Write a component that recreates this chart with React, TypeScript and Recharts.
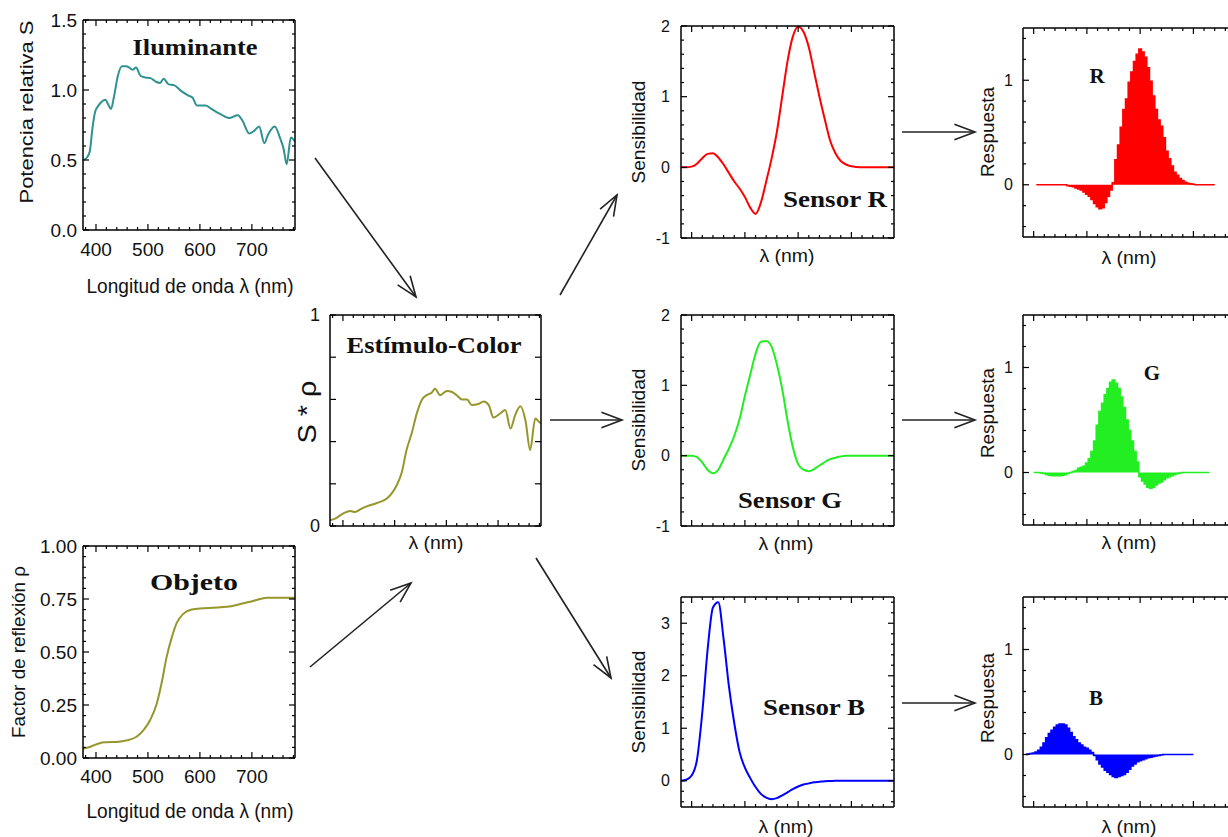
import { ComposedChart, Line, Area, XAxis, YAxis } from 'recharts';

const SANS = '"Liberation Sans", Arial, sans-serif';
const SERIF = '"Liberation Serif", "Times New Roman", serif';
const INK = '#111';

// ---- Iluminante (potencia relativa S) ----
const ILLUM_NM = [376, 383, 388, 393, 398, 405, 412, 418, 423, 429, 435, 442, 450, 458, 464, 470, 477, 486, 495, 505, 515, 523, 530, 540, 550, 565, 578, 586, 594, 602, 611, 620, 633, 643, 656, 673, 682, 695, 705, 714, 724, 731, 744, 754, 761, 767, 775, 783];
const ILLUM_S = [0.5, 0.52, 0.56, 0.72, 0.84, 0.89, 0.92, 0.93, 0.9, 0.865, 0.96, 1.1, 1.17, 1.17, 1.16, 1.145, 1.16, 1.1, 1.09, 1.085, 1.06, 1.05, 1.08, 1.04, 1.035, 0.99, 0.96, 0.945, 0.89, 0.89, 0.89, 0.87, 0.84, 0.82, 0.8, 0.82, 0.78, 0.69, 0.71, 0.74, 0.62, 0.68, 0.74, 0.66, 0.58, 0.47, 0.66, 0.63];

// ---- Objeto (factor de reflexion) ----
const OBJ_NM = [375, 388, 407, 420, 440, 459, 478, 491, 504, 517, 526, 536, 546, 555, 568, 581, 600, 626, 652, 678, 704, 730, 756, 783];
const OBJ_RHO = [0.044, 0.052, 0.07, 0.074, 0.076, 0.083, 0.1, 0.13, 0.178, 0.257, 0.35, 0.477, 0.57, 0.635, 0.68, 0.698, 0.705, 0.709, 0.713, 0.726, 0.742, 0.756, 0.756, 0.756];

// ---- Estimulo-Color (S * rho) ----
const EST_NM = [375, 385, 401, 414, 423, 436, 446, 459, 472, 485, 494, 504, 514, 523, 533, 543, 553, 562, 572, 578, 588, 601, 611, 620, 630, 640, 649, 662, 672, 682, 691, 704, 714, 724, 733, 743, 753, 762, 772, 779, 783];
const EST_V = [0.027, 0.035, 0.06, 0.071, 0.066, 0.082, 0.093, 0.103, 0.114, 0.13, 0.153, 0.193, 0.256, 0.36, 0.44, 0.535, 0.6, 0.62, 0.633, 0.65, 0.62, 0.64, 0.635, 0.62, 0.6, 0.6, 0.573, 0.578, 0.59, 0.573, 0.514, 0.533, 0.55, 0.462, 0.525, 0.568, 0.5, 0.36, 0.51, 0.494, 0.486];

// ---- Sensores (10 nm) ----
const SENS_NM = [380, 390, 400, 410, 420, 430, 440, 450, 460, 470, 480, 490, 500, 510, 520, 530, 540, 550, 560, 570, 580, 590, 600, 610, 620, 630, 640, 650, 660, 670, 680, 690, 700, 710, 720, 730, 740, 750, 760, 770, 780];
const SENS_R = [0, 0, 0.01, 0.05, 0.13, 0.19, 0.2, 0.14, 0.04, -0.08, -0.2, -0.3, -0.42, -0.57, -0.66, -0.5, -0.2, 0.12, 0.5, 1.0, 1.5, 1.85, 1.99, 1.92, 1.7, 1.35, 1.0, 0.68, 0.38, 0.2, 0.09, 0.04, 0.015, 0.005, 0, 0, 0, 0, 0, 0, 0];
const SENS_G = [0, 0, 0, -0.02, -0.1, -0.2, -0.25, -0.2, -0.05, 0.1, 0.28, 0.52, 0.85, 1.15, 1.45, 1.62, 1.63, 1.55, 1.3, 0.95, 0.5, 0.12, -0.12, -0.2, -0.22, -0.19, -0.14, -0.09, -0.05, -0.03, -0.01, 0, 0, 0, 0, 0, 0, 0, 0, 0, 0];
const SENS_B = [0, 0.02, 0.1, 0.4, 1.3, 2.5, 3.3, 3.4, 2.7, 1.8, 1.1, 0.55, 0.25, 0.05, -0.12, -0.25, -0.32, -0.35, -0.33, -0.28, -0.22, -0.16, -0.11, -0.07, -0.05, -0.03, -0.02, -0.01, -0.005, 0, 0, 0, 0, 0, 0, 0, 0, 0, 0, 0, 0];

// ---- Respuestas (bins de 5 nm) ----
const RESP_R_START = 405;
const RESP_R = [0, 0, 0, 0, 0, 0, 0, 0, 0, 0, 0, 0, -0.01, -0.015, -0.02, -0.03, -0.04, -0.05, -0.07, -0.09, -0.11, -0.14, -0.18, -0.21, -0.23, -0.22, -0.17, -0.11, -0.05, 0.02, 0.24, 0.38, 0.55, 0.72, 0.82, 0.98, 1.08, 1.18, 1.25, 1.3, 1.27, 1.22, 1.12, 0.99, 0.85, 0.72, 0.62, 0.56, 0.45, 0.32, 0.25, 0.18, 0.12, 0.09, 0.06, 0.04, 0.025, 0.015, 0.01, 0.005, 0, 0, 0, 0, 0, 0, 0, 0];
const RESP_G_START = 400;
const RESP_G = [0, 0, 0, -0.005, -0.01, -0.02, -0.025, -0.03, -0.03, -0.03, -0.03, -0.025, -0.02, -0.01, 0, 0.01, 0.02, 0.04, 0.05, 0.06, 0.09, 0.13, 0.2, 0.3, 0.45, 0.58, 0.66, 0.74, 0.8, 0.86, 0.88, 0.85, 0.8, 0.72, 0.62, 0.5, 0.4, 0.3, 0.2, 0.1, -0.04, -0.08, -0.11, -0.14, -0.15, -0.14, -0.12, -0.1, -0.09, -0.07, -0.05, -0.04, -0.03, -0.02, -0.01, -0.005, 0, 0, 0, 0, 0, 0, 0, 0, 0, 0, 0];
const RESP_B_START = 385;
const RESP_B = [0, 0.005, 0.01, 0.015, 0.025, 0.04, 0.07, 0.11, 0.16, 0.2, 0.23, 0.26, 0.28, 0.29, 0.29, 0.28, 0.25, 0.21, 0.17, 0.14, 0.11, 0.09, 0.07, 0.06, 0.04, 0.02, -0.01, -0.05, -0.09, -0.12, -0.15, -0.17, -0.19, -0.21, -0.22, -0.21, -0.2, -0.19, -0.17, -0.14, -0.11, -0.09, -0.07, -0.06, -0.05, -0.04, -0.03, -0.025, -0.02, -0.015, -0.01, -0.005, 0, 0, 0, 0, 0, 0, 0, 0, 0, 0, 0, 0];

// ---- ticks ----
const range = (a: number, b: number, s: number) => {
  const out: number[] = [];
  for (let v = a; v <= b + 1e-9; v += s) out.push(Math.round(v * 1000) / 1000);
  return out;
};
const WL_TICKS = range(380, 780, 20);
const WL_MAJOR = [400, 500, 600, 700];
const SENS_WL_TICKS = range(400, 760, 20);

const pairs = (xs: number[], ys: number[]) => xs.map((nm, i) => ({ nm, v: ys[i] }));
const bins = (start: number, ys: number[]) => ys.map((v, i) => ({ nm: start + 5 * i, v }));

type Side = 'bottom' | 'top' | 'left' | 'right';
interface TickCfg {
  major: number[];
  labels?: number[];
  fmt?: (v: number) => string;
  fontSize?: number;
  gap?: number;
}
const has = (arr: number[] | undefined, v: number) => !!arr && arr.some((m) => Math.abs(m - v) < 1e-6);

const makeTick = (side: Side, cfg: TickCfg) => (props: any) => {
  const { x, y, payload } = props;
  const v: number = payload.value;
  const len = has(cfg.major, v) ? 6 : 3;
  let x2 = x;
  let y2 = y;
  if (side === 'bottom') y2 = y - len;
  if (side === 'top') y2 = y + len;
  if (side === 'left') x2 = x + len;
  if (side === 'right') x2 = x - len;
  const show = has(cfg.labels, v) && cfg.fmt;
  const gap = cfg.gap ?? 8;
  return (
    <g>
      <line x1={x} y1={y} x2={x2} y2={y2} stroke="#000" strokeWidth={1.2} />
      {show && side === 'bottom' && (
        <text x={x} y={y + gap} textAnchor="middle" dominantBaseline="central" fontFamily={SANS} fontSize={cfg.fontSize} fill={INK}>
          {cfg.fmt!(v)}
        </text>
      )}
      {show && side === 'left' && (
        <text x={x - gap} y={y} textAnchor="end" dominantBaseline="central" fontFamily={SANS} fontSize={cfg.fontSize} fill={INK}>
          {cfg.fmt!(v)}
        </text>
      )}
    </g>
  );
};

const PAD_L = 70;
const PAD_T = 16;
const PAD_R = 6;
const PAD_B = 40;
const AXIS = { stroke: '#000', strokeWidth: 1.5 };

interface PanelProps {
  L: number; T: number; R: number; B: number;
  xDomain: [number, number];
  yDomain: [number, number];
  xTicks: number[];
  xCfg: TickCfg;
  yTicks: number[];
  yCfg: TickCfg;
  data: { nm: number; v: number }[];
  color: string;
  kind: 'line' | 'area';
}

function Panel(p: PanelProps) {
  const w = p.R - p.L + PAD_L + PAD_R;
  const h = p.B - p.T + PAD_T + PAD_B;
  // top / right axes take 1px each so that they are actually drawn (the frame of the plot)
  return (
    <div style={{ position: 'absolute', left: p.L - PAD_L, top: p.T - PAD_T }}>
      <ComposedChart width={w} height={h} data={p.data} margin={{ top: PAD_T - 1, right: PAD_R - 1, left: 0, bottom: 0 }}>
        <XAxis xAxisId="b" type="number" dataKey="nm" domain={p.xDomain} allowDataOverflow ticks={p.xTicks} interval={0}
          tickSize={0} tickMargin={0} height={PAD_B} axisLine={AXIS} tickLine={false} tick={makeTick('bottom', p.xCfg)} />
        <XAxis xAxisId="t" orientation="top" type="number" dataKey="nm" domain={p.xDomain} allowDataOverflow ticks={p.xTicks} interval={0}
          tickSize={0} tickMargin={0} height={1} axisLine={AXIS} tickLine={false} tick={makeTick('top', { major: p.xCfg.major })} />
        <YAxis yAxisId="l" type="number" domain={p.yDomain} allowDataOverflow ticks={p.yTicks} interval={0}
          tickSize={0} tickMargin={0} width={PAD_L} axisLine={AXIS} tickLine={false} tick={makeTick('left', p.yCfg)} />
        <YAxis yAxisId="r" orientation="right" type="number" domain={p.yDomain} allowDataOverflow ticks={p.yTicks} interval={0}
          tickSize={0} tickMargin={0} width={1} axisLine={AXIS} tickLine={false} tick={makeTick('right', { major: p.yCfg.major })} />
        <Line xAxisId="t" yAxisId="r" type="monotone" dataKey="v" stroke="none" dot={false} activeDot={false}
          legendType="none" isAnimationActive={false} />
        {p.kind === 'area' ? (
          <Area xAxisId="b" yAxisId="l" type="step" dataKey="v" baseValue={0} stroke={p.color} strokeWidth={1.5}
            fill={p.color} fillOpacity={1} dot={false} activeDot={false} isAnimationActive={false} />
        ) : (
          <Line xAxisId="b" yAxisId="l" type="monotone" dataKey="v" stroke={p.color} strokeWidth={2}
            dot={false} activeDot={false} isAnimationActive={false} />
        )}
      </ComposedChart>
    </div>
  );
}

const SENS_Y_TICKS = range(-1, 2, 0.2);
const SENS_Y_CFG: TickCfg = { major: [-1, 0, 1, 2], labels: [-1, 0, 1, 2], fmt: (v) => String(v), fontSize: 16, gap: 11 };
const RESP_Y_TICKS = range(-0.4, 1.4, 0.2);
const RESP_Y_CFG: TickCfg = { major: [0, 1], labels: [0, 1], fmt: (v) => String(v), fontSize: 16, gap: 10 };
const SENS_X_CFG: TickCfg = { major: WL_MAJOR };

function Arrow({ x1, y1, x2, y2 }: { x1: number; y1: number; x2: number; y2: number }) {
  const a = Math.atan2(y2 - y1, x2 - x1);
  const hl = 22;
  const sp = 0.36;
  const p1 = [x2 - hl * Math.cos(a - sp), y2 - hl * Math.sin(a - sp)];
  const p2 = [x2 - hl * Math.cos(a + sp), y2 - hl * Math.sin(a + sp)];
  return (
    <g stroke="#222" strokeWidth={1.6} fill="none">
      <line x1={x1} y1={y1} x2={x2} y2={y2} />
      <polyline points={`${p1[0]},${p1[1]} ${x2},${y2} ${p2[0]},${p2[1]}`} />
    </g>
  );
}

const ARROWS = [
  [315, 158, 416, 297],
  [310, 667, 411, 583],
  [560, 295, 617, 195],
  [550, 420, 622, 420],
  [536, 558, 611, 678],
  [902, 132, 975, 132],
  [902, 420, 975, 420],
  [902, 703, 975, 703],
];

function VLabel({ x, y, text, len, size = 18 }: { x: number; y: number; text: string; len: number; size?: number }) {
  return (
    <text x={x} y={y} transform={`rotate(-90 ${x} ${y})`} textAnchor="middle" dominantBaseline="central"
      fontFamily={SANS} fontSize={size} fill={INK} textLength={len} lengthAdjust="spacingAndGlyphs">
      {text}
    </text>
  );
}

function HLabel({ x, y, text, len, size = 18 }: { x: number; y: number; text: string; len?: number; size?: number }) {
  return (
    <text x={x} y={y} textAnchor="middle" dominantBaseline="central" fontFamily={SANS} fontSize={size} fill={INK}
      textLength={len} lengthAdjust="spacingAndGlyphs">
      {text}
    </text>
  );
}

function Title({ x, y, text, len, size = 24 }: { x: number; y: number; text: string; len?: number; size?: number }) {
  return (
    <text x={x} y={y} textAnchor="middle" fontFamily={SERIF} fontWeight="bold" fontSize={size} fill="#111"
      textLength={len} lengthAdjust="spacingAndGlyphs">
      {text}
    </text>
  );
}

export default function App() {
  return (
    <div style={{ position: 'fixed', left: 0, top: 0, width: 1228, height: 837, overflow: 'hidden', background: '#fff' }}>
      <Panel L={83} T={20} R={295} B={230} xDomain={[375, 783]} yDomain={[0, 1.5]}
        xTicks={WL_TICKS} xCfg={{ major: WL_MAJOR, labels: WL_MAJOR, fmt: (v) => String(v), fontSize: 19, gap: 19 }}
        yTicks={range(0, 1.5, 0.1)} yCfg={{ major: [0, 0.5, 1, 1.5], labels: [0, 0.5, 1, 1.5], fmt: (v) => v.toFixed(1), fontSize: 19, gap: 6 }}
        data={pairs(ILLUM_NM, ILLUM_S)} color="#2f9191" kind="line" />
      <Panel L={83} T={546} R={295} B={758} xDomain={[375, 783]} yDomain={[0, 1]}
        xTicks={WL_TICKS} xCfg={{ major: WL_MAJOR, labels: WL_MAJOR, fmt: (v) => String(v), fontSize: 19, gap: 18 }}
        yTicks={range(0, 1, 0.05)} yCfg={{ major: [0, 0.25, 0.5, 0.75, 1], labels: [0, 0.25, 0.5, 0.75, 1], fmt: (v) => v.toFixed(2), fontSize: 19, gap: 6 }}
        data={pairs(OBJ_NM, OBJ_RHO)} color="#96962c" kind="line" />
      <Panel L={330} T={315} R={541} B={526} xDomain={[375, 783]} yDomain={[0, 1]}
        xTicks={WL_TICKS} xCfg={{ major: WL_MAJOR }}
        yTicks={range(0, 1, 0.2)} yCfg={{ major: range(0, 1, 0.2), labels: [0, 1], fmt: (v) => String(v), fontSize: 18, gap: 10 }}
        data={pairs(EST_NM, EST_V)} color="#96962c" kind="line" />

      <Panel L={681} T={26} R={894} B={238} xDomain={[380, 780]} yDomain={[-1, 2]}
        xTicks={SENS_WL_TICKS} xCfg={SENS_X_CFG} yTicks={SENS_Y_TICKS} yCfg={SENS_Y_CFG}
        data={pairs(SENS_NM, SENS_R)} color="#ff0000" kind="line" />
      <Panel L={681} T={315} R={894} B={526} xDomain={[380, 780]} yDomain={[-1, 2]}
        xTicks={SENS_WL_TICKS} xCfg={SENS_X_CFG} yTicks={SENS_Y_TICKS} yCfg={SENS_Y_CFG}
        data={pairs(SENS_NM, SENS_G)} color="#22ee22" kind="line" />
      <Panel L={681} T={597} R={894} B={807} xDomain={[380, 780]} yDomain={[-0.5, 3.5]}
        xTicks={SENS_WL_TICKS} xCfg={SENS_X_CFG}
        yTicks={range(-0.4, 3.4, 0.2)} yCfg={{ major: [0, 1, 2, 3], labels: [0, 1, 2, 3], fmt: (v) => String(v), fontSize: 16, gap: 11 }}
        data={pairs(SENS_NM, SENS_B)} color="#0000ff" kind="line" />

      <Panel L={1023} T={28} R={1236} B={237} xDomain={[380, 780]} yDomain={[-0.5, 1.5]}
        xTicks={SENS_WL_TICKS} xCfg={SENS_X_CFG} yTicks={RESP_Y_TICKS} yCfg={RESP_Y_CFG}
        data={bins(RESP_R_START, RESP_R)} color="#ff0000" kind="area" />
      <Panel L={1023} T={315} R={1236} B={525} xDomain={[380, 780]} yDomain={[-0.5, 1.5]}
        xTicks={SENS_WL_TICKS} xCfg={SENS_X_CFG} yTicks={RESP_Y_TICKS} yCfg={RESP_Y_CFG}
        data={bins(RESP_G_START, RESP_G)} color="#22ee22" kind="area" />
      <Panel L={1023} T={597} R={1236} B={807} xDomain={[380, 780]} yDomain={[-0.5, 1.5]}
        xTicks={SENS_WL_TICKS} xCfg={SENS_X_CFG} yTicks={RESP_Y_TICKS} yCfg={RESP_Y_CFG}
        data={bins(RESP_B_START, RESP_B)} color="#0000ff" kind="area" />

      <svg width={1228} height={837} style={{ position: 'absolute', left: 0, top: 0, pointerEvents: 'none' }}>
        {ARROWS.map(([x1, y1, x2, y2], i) => (
          <Arrow key={i} x1={x1} y1={y1} x2={x2} y2={y2} />
        ))}

        <Title x={195} y={55} text="Iluminante" len={125} />
        <Title x={194} y={590} text="Objeto" len={88} />
        <Title x={434} y={353} text="Estímulo-Color" len={175} />
        <Title x={835} y={207} text="Sensor R" len={104} />
        <Title x={790} y={508} text="Sensor G" len={104} />
        <Title x={814} y={715} text="Sensor B" len={102} />
        <Title x={1097} y={83} text="R" size={21} />
        <Title x={1152} y={380} text="G" size={21} />
        <Title x={1096} y={705} text="B" size={21} />

        <VLabel x={27} y={112} text="Potencia relativa S" len={183} />
        <VLabel x={19} y={652} text="Factor de reflexión ρ" len={172} />
        <VLabel x={307} y={412} text="S * ρ" len={63} size={26} />
        <VLabel x={639} y={132} text="Sensibilidad" len={103} />
        <VLabel x={639} y={420} text="Sensibilidad" len={103} />
        <VLabel x={639} y={702} text="Sensibilidad" len={103} />
        <VLabel x={988} y={132} text="Respuesta" len={90} />
        <VLabel x={988} y={413} text="Respuesta" len={90} />
        <VLabel x={988} y={698} text="Respuesta" len={90} />

        <HLabel x={190} y={286} text="Longitud de onda λ (nm)" len={207} size={20} />
        <HLabel x={190} y={811} text="Longitud de onda λ (nm)" len={207} size={20} />
        <HLabel x={436} y={543} text="λ (nm)" len={55} />
        <HLabel x={787} y={256} text="λ (nm)" len={55} />
        <HLabel x={786} y={544} text="λ (nm)" len={55} />
        <HLabel x={786} y={827} text="λ (nm)" len={55} />
        <HLabel x={1129} y={258} text="λ (nm)" len={55} />
        <HLabel x={1129} y={543} text="λ (nm)" len={55} />
        <HLabel x={1129} y={827} text="λ (nm)" len={55} />
      </svg>
    </div>
  );
}
